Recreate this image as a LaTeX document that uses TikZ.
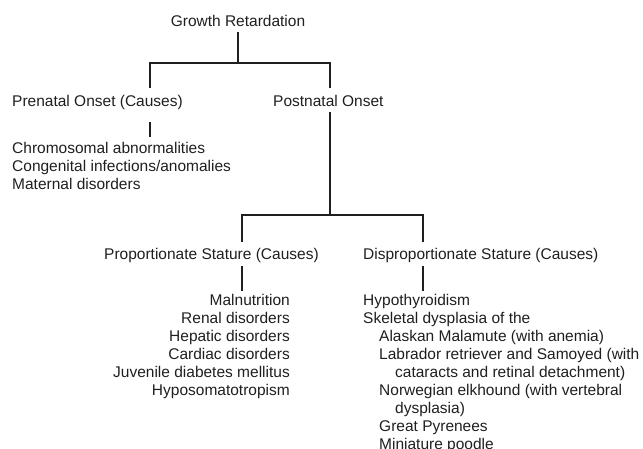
\documentclass[tikz,border=0pt]{standalone}
\usepackage{fontspec}
\setmainfont{Liberation Sans}
\begin{document}
\begin{tikzpicture}[x=1pt, y=-1pt,
  lbl/.style={inner sep=0pt, font=\fontsize{15.5}{18}\selectfont, text=black!88},
  link/.style={line width=2.6pt, draw=black!88}]
\useasboundingbox (0,0) rectangle (643,448);
% labels
\node[lbl, anchor=base] (gr) at (238,26) {Growth Retardation};
\node[lbl, anchor=base west] (pre) at (12,106) {Prenatal Onset (Causes)};
\node[lbl, anchor=base west] (post) at (273,106) {Postnatal Onset};
\node[lbl, anchor=base west] (prelist) at (12,153)
  {\begin{tabular}[t]{@{}l@{}}Chromosomal abnormalities\\ Congenital infections/anomalies\\ Maternal disorders\end{tabular}};
\node[lbl, anchor=base west] (prop) at (104,259) {Proportionate Stature (Causes)};
\node[lbl, anchor=base west] (disp) at (363,259) {Disproportionate Stature (Causes)};
\node[lbl, anchor=base east] (proplist) at (290,305)
  {\begin{tabular}[t]{@{}r@{}}Malnutrition\\ Renal disorders\\ Hepatic disorders\\ Cardiac disorders\\ Juvenile diabetes mellitus\\ Hyposomatotropism\end{tabular}};
\node[lbl, anchor=base west] (displist) at (363,305)
  {\begin{tabular}[t]{@{}l@{}}Hypothyroidism\\ Skeletal dysplasia of the\\
  \hspace*{16pt}Alaskan Malamute (with anemia)\\
  \hspace*{16pt}Labrador retriever and Samoyed (with\\
  \hspace*{32pt}cataracts and retinal detachment)\\
  \hspace*{16pt}Norwegian elkhound (with vertebral\\
  \hspace*{32pt}dysplasia)\\
  \hspace*{16pt}Great Pyrenees\\
  \hspace*{16pt}Miniature poodle\end{tabular}};
% connector ends and junctions
\coordinate (grb) at (238,32);
\coordinate (j1) at (238,63);
\coordinate (j1l) at (150,63);
\coordinate (j1r) at (330,63);
\coordinate (pret) at (150,88);
\coordinate (postt) at (330,88);
\coordinate (preb) at (150,122);
\coordinate (prelt) at (150,137);
\coordinate (postb) at (330,112);
\coordinate (j2) at (330,215);
\coordinate (j2l) at (242,215);
\coordinate (j2r) at (423,215);
\coordinate (propt) at (242,242);
\coordinate (dispt) at (423,242);
\coordinate (propb) at (242,266);
\coordinate (proplt) at (242,291);
\coordinate (dispb) at (423,266);
\coordinate (displt) at (423,291);
% tree lines
\draw[link] (grb) -- (j1);
\draw[link] (pret) -- (j1l) -- (j1r) -- (postt);
\draw[link] (preb) -- (prelt);
\draw[link] (postb) -- (j2);
\draw[link] (propt) -- (j2l) -- (j2r) -- (dispt);
\draw[link] (propb) -- (proplt);
\draw[link] (dispb) -- (displt);
\end{tikzpicture}
\end{document}
